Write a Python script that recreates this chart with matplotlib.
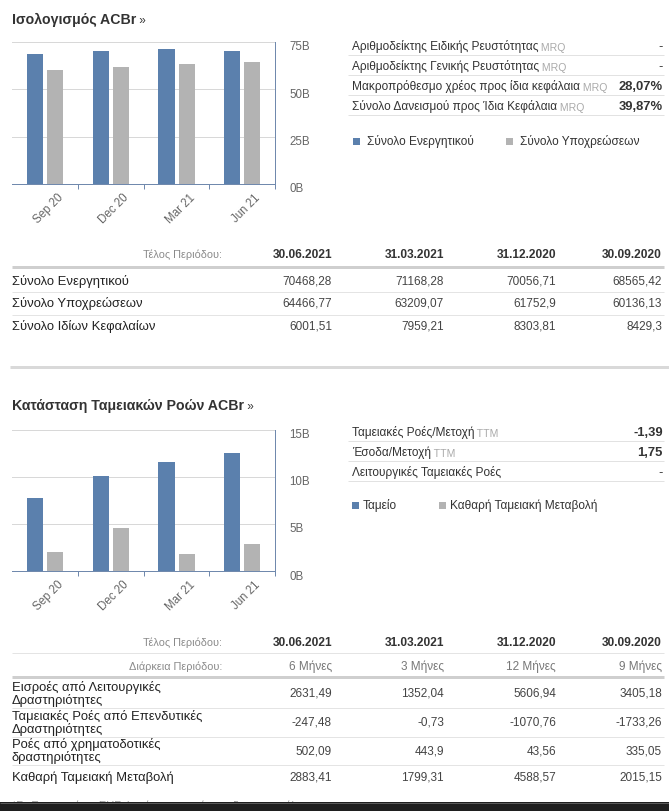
import numpy as np
import matplotlib
matplotlib.use("Agg")
import matplotlib.pyplot as plt
from matplotlib.lines import Line2D
from matplotlib.patches import Rectangle
from matplotlib.text import Annotation
from matplotlib import transforms

plt.rcParams['font.family'] = ['Liberation Sans', 'DejaVu Sans']

# ---------------- data ----------------
periods = ["Sep 20", "Dec 20", "Mar 21", "Jun 21"]
table_dates = ["30.06.2021", "31.03.2021", "31.12.2020", "30.09.2020"]

# balance sheet (millions EUR, table column order: Jun21, Mar21, Dec20, Sep20)
total_assets = [70468.28, 71168.28, 70056.71, 68565.42]
total_liabilities = [64466.77, 63209.07, 61752.9, 60136.13]
total_equity = [6001.51, 7959.21, 8303.81, 8429.3]

# cash flow (table column order)
durations = ["6 Μήνες", "3 Μήνες", "12 Μήνες", "9 Μήνες"]
operating_cf = [2631.49, 1352.04, 5606.94, 3405.18]
investing_cf = [-247.48, -0.73, -1070.76, -1733.26]
financing_cf = [502.09, 443.9, 43.56, 335.05]
net_cash_change = [2883.41, 1799.31, 4588.57, 2015.15]

# cash (billions, chart order Sep20..Jun21)
cash_b = [7.77, 10.1, 11.58, 12.53]

bs_ticks = [0, 25, 50, 75]
bs_tick_labels = ["0B", "25B", "50B", "75B"]
cf_ticks = [0, 5, 10, 15]
cf_tick_labels = ["0B", "5B", "10B", "15B"]

bs_ratios = [
    ("Αριθμοδείκτης Ειδικής Ρευστότητας", "MRQ", "-"),
    ("Αριθμοδείκτης Γενικής Ρευστότητας", "MRQ", "-"),
    ("Μακροπρόθεσμο χρέος προς ίδια κεφάλαια", "MRQ", "28,07%"),
    ("Σύνολο Δανεισμού προς Ίδια Κεφάλαια", "MRQ", "39,87%"),
]
cf_ratios = [
    ("Ταμειακές Ροές/Μετοχή", "TTM", "-1,39"),
    ("Έσοδα/Μετοχή", "TTM", "1,75"),
    ("Λειτουργικές Ταμειακές Ροές", "", "-"),
]

# ---------------- style ----------------
W, H = 669, 812
BLUE = "#5b80ad"
GRAY = "#b3b3b3"
AXC = "#7089ad"
GRID = "#d8d8d8"
PX = 0.72  # points per pixel


def fx(x):
    return x / W


def fy(y):
    return 1 - y / H


fig = plt.figure(figsize=(W / 100, H / 100), dpi=100)
fig.patch.set_facecolor("white")


def hline(y, x0, x1, lw_px=1, color="#e3e3e3", z=1):
    fig.add_artist(Line2D([fx(x0), fx(x1)], [fy(y), fy(y)], transform=fig.transFigure,
                          lw=lw_px * PX, color=color, zorder=z, solid_capstyle="butt"))


def txt(x, y, s, ha="left", size=9.3, color="#333333", weight="normal", va="center"):
    return fig.text(fx(x), fy(y), s, ha=ha, va=va, fontsize=size, color=color,
                    fontweight=weight)


def fmt(v):
    return str(v).replace(".", ",")


def title(y, s):
    t = txt(12, y, s, size=10.2, color="#333333", weight="bold", va="baseline")
    fig.add_artist(Annotation(" »", xy=(1, 0), xycoords=t, fontsize=8.5,
                              color="#333333", va="bottom", ha="left"))
    return t


def chart(top, bottom, s1, s2, ymax, ticks, labels):
    ax = fig.add_axes([fx(12), fy(bottom), fx(275) - fx(12), (bottom - top) / H])
    x = np.arange(len(periods))
    ax.bar(x - 0.15, s1, width=0.245, color=BLUE, zorder=3)
    ax.bar(x + 0.155, s2, width=0.245, color=GRAY, zorder=3)
    ax.set_xlim(-0.5, 3.5)
    ax.set_ylim(0, ymax)
    ax.yaxis.tick_right()
    ax.set_yticks(ticks)
    ax.set_yticklabels(labels)
    ax.tick_params(axis="y", length=0, pad=14 * PX, labelsize=8.3, labelcolor="#666666")
    for lab in ax.get_yticklabels():
        lab.set_transform(lab.get_transform() +
                          transforms.ScaledTranslation(0, -3 / 100, fig.dpi_scale_trans))
    ax.grid(axis="y", color=GRID, lw=PX, zorder=0)
    ax.set_axisbelow(True)
    for sp in ("left", "top"):
        ax.spines[sp].set_visible(False)
    for sp in ("right", "bottom"):
        ax.spines[sp].set_color(AXC)
        ax.spines[sp].set_linewidth(PX)
    ax.set_xticks([0.5, 1.5, 2.5, 3.5])
    ax.set_xticklabels([])
    ax.tick_params(axis="x", length=5 * PX, width=PX, color=AXC, direction="out")
    off = transforms.offset_copy(ax.get_xaxis_transform(), fig=fig,
                                 x=16.5 * PX, y=-11 * PX, units="points")
    for i, p in enumerate(periods):
        ax.text(i, 0, p, transform=off, rotation=45, rotation_mode="anchor",
                ha="right", va="center", fontsize=8.3, color="#666666")
    return ax


def ratio_panel(rows, y0, dy, legend_y, leg):
    for i, (lab, suffix, val) in enumerate(rows):
        y = y0 + i * dy
        t = txt(352, y, lab, size=8.55, color="#333333", va="baseline")
        if suffix:
            fig.add_artist(Annotation(" " + suffix, xy=(1, 0), xycoords=t,
                                      fontsize=7.6, color="#aaaaaa",
                                      va="bottom", ha="left"))
        bold = "bold" if val != "-" else "normal"
        txt(663, y, val, ha="right", size=9.4, color="#333333", weight=bold, va="baseline")
        hline(y + 6, 348, 664, 1, "#e2e2e2")
    for (sx, tx, name, col) in leg:
        fig.add_artist(Rectangle((fx(sx), fy(legend_y + 3.5)), 7 / W, 7 / H,
                                 transform=fig.transFigure, color=col, lw=0))
        txt(tx, legend_y, name, size=8.6, color="#333333")


# ---------------- section 1: balance sheet ----------------
title(24, "Ισολογισμός ACBr")
chart(43, 185, [v / 1000 for v in total_assets[::-1]],
      [v / 1000 for v in total_liabilities[::-1]], 75, bs_ticks, bs_tick_labels)
ratio_panel(bs_ratios, 50, 20, 142,
            [(353, 367, "Σύνολο Ενεργητικού", BLUE),
             (506, 520, "Σύνολο Υποχρεώσεων", GRAY)])

col_x = [332, 444, 556, 662]
txt(222, 255, "Τέλος Περιόδου:", ha="right", size=7.8, color="#8a8a8a")
for cx, d in zip(col_x, table_dates):
    txt(cx, 255, d, ha="right", size=8.6, color="#333333", weight="bold")
hline(268, 12, 664, 3, "#cfcfcf")
bs_rows = [("Σύνολο Ενεργητικού", total_assets),
           ("Σύνολο Υποχρεώσεων", total_liabilities),
           ("Σύνολο Ιδίων Κεφαλαίων", total_equity)]
for i, (lab, vals) in enumerate(bs_rows):
    y = 281 + i * 23
    txt(12, y, lab, size=9.4, color="#222222")
    for cx, v in zip(col_x, vals):
        txt(cx, y, fmt(v), ha="right", size=8.5, color="#444444")
    if i < len(bs_rows) - 1:
        hline(y + 11.5, 12, 664, 1, "#e4e4e4")

# section separator
hline(368, 10, 669, 3, "#d9d9d9")

# ---------------- section 2: cash flow ----------------
title(410, "Κατάσταση Ταμειακών Ροών ACBr")
chart(431, 572, cash_b, [v / 1000 for v in net_cash_change[::-1]], 15,
      cf_ticks, cf_tick_labels)
ratio_panel(cf_ratios, 436, 20, 506,
            [(352, 363, "Ταμείο", BLUE),
             (439, 450, "Καθαρή Ταμειακή Μεταβολή", GRAY)])

txt(222, 643, "Τέλος Περιόδου:", ha="right", size=7.8, color="#8a8a8a")
for cx, d in zip(col_x, table_dates):
    txt(cx, 643, d, ha="right", size=8.6, color="#333333", weight="bold")
hline(654, 12, 664, 1, "#e4e4e4")
txt(222, 667, "Διάρκεια Περιόδου:", ha="right", size=7.8, color="#8a8a8a")
for cx, d in zip(col_x, durations):
    txt(cx, 667, d, ha="right", size=8.5, color="#777777")
hline(678, 12, 664, 3, "#cfcfcf")

cf_rows = [(("Εισροές από Λειτουργικές", "Δραστηριότητες"), operating_cf),
           (("Ταμειακές Ροές από Επενδυτικές", "Δραστηριότητες"), investing_cf),
           (("Ροές από χρηματοδοτικές", "δραστηριότητες"), financing_cf),
           (("Καθαρή Ταμειακή Μεταβολή",), net_cash_change)]
ys = [694, 723, 751.5, 778]
for i, ((lines, vals), yc) in enumerate(zip(cf_rows, ys)):
    if len(lines) == 2:
        txt(12, yc - 6.5, lines[0], size=9.4, color="#222222")
        txt(12, yc + 6.5, lines[1], size=9.4, color="#222222")
    else:
        txt(12, yc, lines[0], size=9.4, color="#222222")
    for cx, v in zip(col_x, vals):
        txt(cx, yc, fmt(v), ha="right", size=8.5, color="#444444")
    if i < len(cf_rows) - 1:
        hline(yc + 14.5, 12, 664, 1, "#e4e4e4")

# footnote (mostly hidden by the bottom bar)
txt(12, 800.5, "*Σε Εκατομμύρια EUR (εκτός αν αναφέρεται διαφορετικά)", size=8,
    color="#999999", va="top")
fig.add_artist(Rectangle((0, 0), 1, 9 / H, transform=fig.transFigure,
                         color="#1f1f1f", lw=0, zorder=10))
hline(803.5, 0, 669, 1, "#5a5a5a", z=11)

fig.savefig("out.png", dpi=100, facecolor="white")
